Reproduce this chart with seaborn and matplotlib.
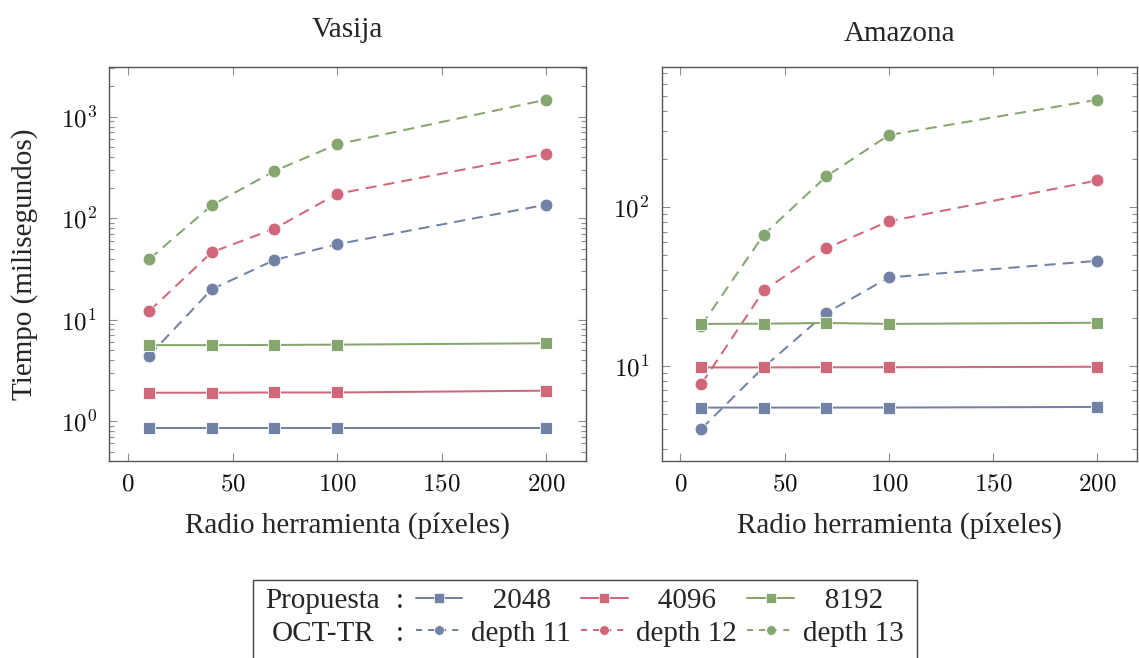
import numpy as np
import pandas as pd
import matplotlib
matplotlib.use('Agg')
import matplotlib.pyplot as plt
import seaborn as sns
from matplotlib.lines import Line2D
from matplotlib.patches import Rectangle
from matplotlib.ticker import FuncFormatter, LogLocator, NullFormatter

# radio de la herramienta (pixeles)
radio = [10, 40, 70, 100, 200]

# Vasija (ms)
vas_2048 = [0.85, 0.85, 0.85, 0.85, 0.85]
vas_4096 = [1.90, 1.90, 1.91, 1.91, 1.99]
vas_8192 = [5.60, 5.60, 5.62, 5.66, 5.84]
vas_d11 = [4.4, 19.9, 38.7, 55.3, 136]
vas_d12 = [12.1, 46.1, 78.8, 174, 433]
vas_d13 = [39.3, 134, 292, 535, 1475]

# Amazona (ms)
ama_2048 = [5.45, 5.45, 5.45, 5.45, 5.50]
ama_4096 = [9.76, 9.76, 9.78, 9.78, 9.85]
ama_8192 = [18.35, 18.4, 18.6, 18.35, 18.65]
ama_d11 = [4.0, 9.8, 21.5, 36.0, 45.8]
ama_d12 = [7.66, 29.8, 55.0, 81.3, 147]
ama_d13 = [17.9, 67, 156, 284, 474]

propuesta = ['2048', '4096', '8192']
octtr = ['depth 11', 'depth 12', 'depth 13']
titulos = ['Vasija', 'Amazona']

colores = ['#7282a7', '#d0687a', '#85a76f']

sns.set_theme(style='ticks')
plt.rcParams['font.family'] = ['Liberation Serif', 'DejaVu Serif']
plt.rcParams['mathtext.fontset'] = 'cm'


def tidy(p_vals, o_vals):
    frames = []
    for name, vals in zip(octtr + propuesta, o_vals + p_vals):
        frames.append(pd.DataFrame({'radio': radio, 'tiempo': vals, 'serie': name}))
    return pd.concat(frames, ignore_index=True)


datos = [
    tidy([vas_2048, vas_4096, vas_8192], [vas_d11, vas_d12, vas_d13]),
    tidy([ama_2048, ama_4096, ama_8192], [ama_d11, ama_d12, ama_d13]),
]

palette = dict(zip(octtr + propuesta, colores + colores))
markers = {**{k: 'o' for k in octtr}, **{k: 's' for k in propuesta}}
dashes = {**{k: (5.5, 3.5) for k in octtr}, **{k: '' for k in propuesta}}

fig = plt.figure(figsize=(11.39, 6.58), dpi=100)
W, H = 1139, 658
ax1 = fig.add_axes([109.3 / W, 1 - 461 / H, (586 - 109.3) / W, (461 - 66.7) / H])
ax2 = fig.add_axes([661.7 / W, 1 - 461 / H, (1136.7 - 661.7) / W, (461 - 66.7) / H])
axes = [ax1, ax2]
ylims = [(0.403, 3119), (2.51, 766)]
title_pads = [21.5, 18.5]

for ax, df, titulo, ylim, tpad in zip(axes, datos, titulos, ylims, title_pads):
    sns.lineplot(data=df, x='radio', y='tiempo', hue='serie', style='serie',
                 hue_order=octtr + propuesta, style_order=octtr + propuesta,
                 palette=palette, markers=markers, dashes=dashes,
                 estimator=None, sort=False, legend=False, ax=ax,
                 linewidth=1.45, markersize=9.2, markeredgewidth=0.6,
                 markeredgecolor='#ffffff')
    ax.set_yscale('log')
    ax.set_xlim(-9, 219)
    ax.set_ylim(*ylim)
    ax.set_xticks([0, 50, 100, 150, 200])
    ax.xaxis.set_major_formatter(FuncFormatter(lambda v, p: r'$%d$' % v))
    ax.yaxis.set_major_locator(LogLocator(base=10))
    ax.yaxis.set_minor_locator(LogLocator(base=10, subs=np.arange(2, 10)))
    ax.yaxis.set_major_formatter(FuncFormatter(lambda v, p: r'$10^{%d}$' % round(np.log10(v))))
    ax.yaxis.set_minor_formatter(NullFormatter())
    ax.tick_params(which='both', direction='in', top=True, right=True,
                   color='#8f8f8f', width=0.8, labelsize=18, labelcolor='#111111')
    ax.tick_params(which='major', length=6, pad=9)
    ax.tick_params(which='minor', length=3.6)
    for sp in ax.spines.values():
        sp.set_color('#555555')
        sp.set_linewidth(1.0)
    ax.set_xlabel('Radio herramienta (píxeles)', fontsize=21, labelpad=12)
    ax.set_ylabel('')
    ax.set_title(titulo, fontsize=21, pad=tpad)

ax1.set_ylabel('Tiempo (milisegundos)', fontsize=21, labelpad=16)

# leyenda
handles = []
labels = []
for i in range(3):
    handles.append(Line2D([], [], color=colores[i], marker='s', markersize=7.5,
                          markeredgecolor='#ffffff', markeredgewidth=0.5, linewidth=1.45))
    labels.append('   ' + propuesta[i])
    handles.append(Line2D([], [], color=colores[i], marker='o', markersize=7,
                          markeredgecolor='#ffffff', markeredgewidth=0.5, linewidth=1.45,
                          linestyle=(0, (3, 3))))
    labels.append(octtr[i])

leg = fig.legend(handles, labels, ncol=3, loc='upper left',
                 bbox_to_anchor=(415.7 / W, 1 - 588 / H), frameon=False,
                 fontsize=21, handlelength=1.6, handletextpad=0.3,
                 columnspacing=0.35, borderaxespad=0, borderpad=0,
                 labelspacing=0.2)

fig.canvas.draw()
renderer = fig.canvas.get_renderer()
inv = fig.transFigure.inverted()
textos = leg.get_texts()
for fila, (cab, idx) in enumerate([('Propuesta', 0), ('OCT-TR', 1)]):
    bb = textos[idx].get_window_extent(renderer)
    y0 = inv.transform((0, bb.y0))[1]
    fig.text(323 / W, y0, cab, ha='center', va='bottom', fontsize=21)
    fig.text(400 / W, y0, ':', ha='center', va='bottom', fontsize=21)

fig.patches.append(Rectangle((253.3 / W, -0.05), (916.7 - 253.3) / W, 0.05 + 1 - 580 / H,
                             transform=fig.transFigure, fill=False,
                             edgecolor='#444444', linewidth=1.0))

fig.savefig('out.png', dpi=100)
